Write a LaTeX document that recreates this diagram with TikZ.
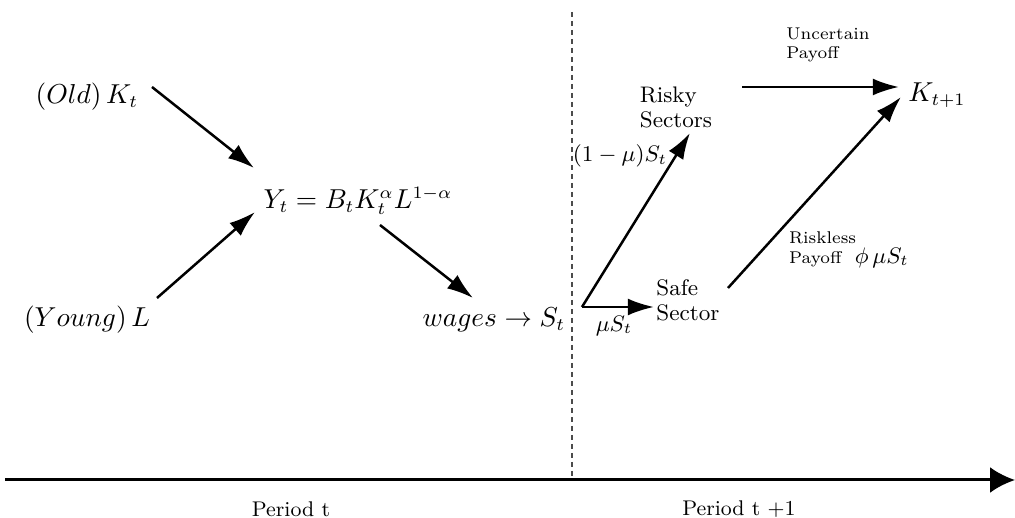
\documentclass[tikz,border=0pt]{standalone}
\usetikzlibrary{arrows.meta}
\begin{document}
\begin{tikzpicture}[x=0.4pt,y=-0.4pt,
  bigmath/.style={inner sep=0pt,font=\fontsize{10.5pt}{12pt}\selectfont},
  sectortxt/.style={inner sep=0pt,align=left,font=\fontsize{9pt}{10pt}\selectfont},
  smalltxt/.style={inner sep=0pt,align=left,font=\fontsize{6.8pt}{7.8pt}\selectfont},
  midmath/.style={inner sep=0pt,font=\fontsize{8.6pt}{10pt}\selectfont},
  periodtxt/.style={inner sep=0pt,font=\fontsize{8.5pt}{10pt}\selectfont},
  flow/.style={line width=1pt,-{Latex[length=10.5pt,width=6.8pt]}},
  timeaxis/.style={line width=1.2pt,-{Latex[length=10pt,width=10.4pt]}},
  divider/.style={line width=0.45pt,dash pattern=on 2.2pt off 1.4pt,black!70}]
\useasboundingbox (0,0) rectangle (1015,518);

% nodes
\node[bigmath] (old) at (87,97) {$(Old)\,K_t$};
\node[bigmath] (young) at (87,320) {$(Young)\,L$};
\node[bigmath] (Y) at (358,201) {$Y_t = B_tK_t^{\alpha}L^{1-\alpha}$};
\node[bigmath] (wages) at (494,320) {$wages \to S_t$};
\node[sectortxt] (risky) at (676,107) {Risky\\Sectors};
\node[sectortxt] (safe) at (688,300) {Safe\\Sector};
\node[bigmath] (K1) at (937,95) {$K_{t+1}$};
\node[smalltxt] (unc) at (828,45) {Uncertain\\Payoff};
\node[smalltxt] (rl) at (849,250) {Riskless\\Payoff~~{\fontsize{8.6pt}{10pt}\selectfont$\phi\,\mu S_t$}};
\node[midmath] (lrisky) at (620,156) {$(1-\mu)S_t$};
\node[midmath] (lsafe) at (614,326) {$\mu S_t$};
\node[periodtxt] (p1) at (291,509) {Period t};
\node[periodtxt] (p2) at (739,509) {Period t +1};

\coordinate (split) at (582,307);
\coordinate (dtop) at (572,12);
\coordinate (dbot) at (572,480);
\coordinate (axl) at (5,480);
\coordinate (axr) at (1015,480);

% divider and time axis
\draw[divider] (dtop) -- (dbot);
\draw[timeaxis] (axl) -- (axr);

% flows
\draw[flow] ([shift={(65,-10)}]old.center) -- ([shift={(-104,-33)}]Y.center);
\draw[flow] ([shift={(70,-22)}]young.center) -- ([shift={(-103,11)}]Y.center);
\draw[flow] ([shift={(22,24)}]Y.center) -- ([shift={(-21,-22)}]wages.center);
\draw[flow] (split) -- ([shift={(14,26)}]risky.center);
\draw[flow] (split) -- ([shift={(-34,7)}]safe.center);
\draw[flow] ([shift={(66,-20)}]risky.center) -- ([shift={(-38,-8)}]K1.center);
\draw[flow] ([shift={(40,-12)}]safe.center) -- ([shift={(-36,2)}]K1.center);
\end{tikzpicture}
\end{document}
